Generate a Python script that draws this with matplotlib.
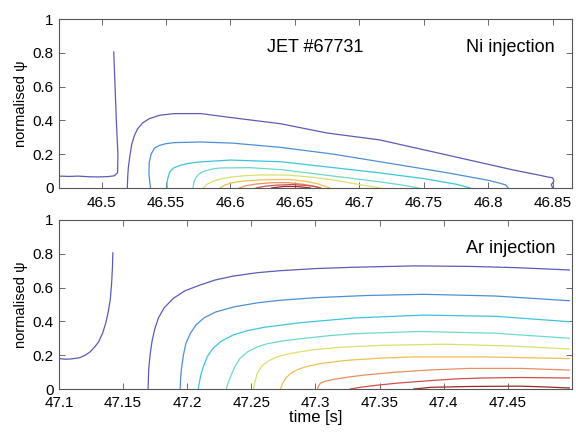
import numpy as np
import matplotlib
matplotlib.use('Agg')
import matplotlib.pyplot as plt

plt.rcParams['font.family'] = ['Liberation Sans', 'DejaVu Sans']

# contour colours (jet-like, washed out), outer -> inner
level_colors = ['#5b5bb8', '#4d8fd6', '#3cc3e0', '#6fd8c8', '#d8e070',
                '#f0c050', '#e89060', '#d05050', '#a02828']

# ---- Ni injection (top) ----
ni_left_t = [46.467, 46.475, 46.482, 46.490, 46.497, 46.505, 46.510, 46.5125,
             46.5127, 46.5115, 46.5105, 46.5095]
ni_left_psi = [0.070, 0.068, 0.070, 0.066, 0.065, 0.067, 0.072, 0.090,
               0.200, 0.400, 0.600, 0.805]

ni_t = [
    [46.520, 46.5203, 46.5208, 46.522, 46.5235, 46.5255, 46.528, 46.532, 46.537,
     46.545, 46.556, 46.577, 46.602, 46.639, 46.675, 46.716, 46.768, 46.819,
     46.840, 46.846, 46.850, 46.851, 46.849, 46.850],
    [46.538, 46.5368, 46.537, 46.5385, 46.541, 46.545, 46.550, 46.556, 46.577,
     46.602, 46.639, 46.680, 46.716, 46.768, 46.800, 46.808, 46.8135, 46.8155],
    [46.551, 46.5508, 46.5515, 46.553, 46.556, 46.561, 46.568, 46.575, 46.600,
     46.639, 46.680, 46.716, 46.750, 46.775, 46.786],
    [46.571, 46.5715, 46.573, 46.576, 46.580, 46.586, 46.592, 46.615, 46.640,
     46.680, 46.716, 46.735, 46.746],
    [46.579, 46.582, 46.586, 46.592, 46.600, 46.612, 46.625, 46.645, 46.665,
     46.680, 46.700, 46.716],
    [46.592, 46.596, 46.602, 46.612, 46.625, 46.645, 46.658, 46.668, 46.677],
    [46.607, 46.612, 46.620, 46.632, 46.645, 46.656, 46.665, 46.670],
    [46.620, 46.627, 46.635, 46.648, 46.660, 46.666, 46.670],
    [46.632, 46.642, 46.652, 46.662],
]
ni_psi = [
    [0.0, 0.06, 0.12, 0.19, 0.26, 0.31, 0.35, 0.385, 0.41, 0.43, 0.44, 0.44,
     0.415, 0.38, 0.325, 0.284, 0.195, 0.107, 0.075, 0.065, 0.060, 0.040,
     0.020, 0.0],
    [0.0, 0.08, 0.15, 0.20, 0.235, 0.252, 0.262, 0.268, 0.272, 0.265, 0.24,
     0.20, 0.155, 0.09, 0.045, 0.03, 0.018, 0.0],
    [0.0, 0.03, 0.06, 0.095, 0.118, 0.134, 0.146, 0.153, 0.165, 0.155, 0.12,
     0.089, 0.055, 0.022, 0.0],
    [0.0, 0.03, 0.06, 0.085, 0.100, 0.112, 0.118, 0.120, 0.108, 0.07, 0.036,
     0.015, 0.0],
    [0.0, 0.022, 0.038, 0.052, 0.064, 0.073, 0.077, 0.076, 0.062, 0.047, 0.02, 0.0],
    [0.0, 0.018, 0.032, 0.042, 0.048, 0.05, 0.04, 0.024, 0.0],
    [0.0, 0.013, 0.023, 0.031, 0.031, 0.022, 0.01, 0.0],
    [0.0, 0.01, 0.016, 0.02, 0.014, 0.007, 0.0],
    [0.0, 0.009, 0.008, 0.0],
]

# ---- Ar injection (bottom) ----
ar_left_t = [47.100, 47.105, 47.110, 47.116, 47.120, 47.124, 47.128, 47.131,
             47.134, 47.1365, 47.1385, 47.140, 47.141, 47.1417, 47.142]
ar_left_psi = [0.18, 0.176, 0.178, 0.185, 0.198, 0.218, 0.25, 0.28, 0.33,
               0.39, 0.46, 0.53, 0.62, 0.72, 0.805]

ar_t = [
    [47.1695, 47.1697, 47.170, 47.171, 47.1725, 47.1745, 47.1775, 47.182,
     47.189, 47.198, 47.210, 47.222, 47.236, 47.255, 47.273, 47.30, 47.33,
     47.377, 47.42, 47.455, 47.498],
    [47.1945, 47.1948, 47.1955, 47.197, 47.199, 47.2025, 47.207, 47.213,
     47.222, 47.236, 47.255, 47.273, 47.30, 47.34, 47.384, 47.44, 47.498],
    [47.2086, 47.2095, 47.2105, 47.2125, 47.2155, 47.22, 47.227, 47.236,
     47.247, 47.26, 47.288, 47.33, 47.384, 47.44, 47.498],
    [47.2305, 47.2318, 47.2336, 47.237, 47.241, 47.247, 47.255, 47.2625,
     47.275, 47.288, 47.31, 47.33, 47.38, 47.44, 47.498],
    [47.2516, 47.253, 47.2547, 47.258, 47.263, 47.27, 47.28, 47.298, 47.32,
     47.35, 47.40, 47.45, 47.498],
    [47.2727, 47.2745, 47.277, 47.2805, 47.286, 47.294, 47.305, 47.325, 47.35,
     47.377, 47.43, 47.498],
    [47.3016, 47.3025, 47.304, 47.308, 47.315, 47.325, 47.3375, 47.36, 47.39,
     47.42, 47.46, 47.498],
    [47.327, 47.335, 47.345, 47.364, 47.39, 47.41, 47.43, 47.46, 47.498],
    [47.3766, 47.39, 47.42, 47.46, 47.48, 47.498],
]
ar_psi = [
    [0.0, 0.06, 0.12, 0.20, 0.28, 0.35, 0.42, 0.48, 0.535, 0.58, 0.615, 0.645,
     0.668, 0.688, 0.70, 0.712, 0.72, 0.728, 0.725, 0.718, 0.704],
    [0.0, 0.06, 0.12, 0.20, 0.27, 0.33, 0.38, 0.42, 0.455, 0.485, 0.51, 0.525,
     0.54, 0.553, 0.56, 0.55, 0.522],
    [0.0, 0.04, 0.08, 0.13, 0.19, 0.24, 0.285, 0.32, 0.345, 0.365, 0.392,
     0.42, 0.437, 0.43, 0.398],
    [0.0, 0.035, 0.07, 0.13, 0.18, 0.22, 0.25, 0.268, 0.285, 0.297, 0.315,
     0.327, 0.34, 0.33, 0.30],
    [0.0, 0.05, 0.095, 0.135, 0.165, 0.19, 0.21, 0.232, 0.247, 0.258, 0.265,
     0.255, 0.237],
    [0.0, 0.035, 0.065, 0.092, 0.115, 0.135, 0.152, 0.17, 0.182, 0.19, 0.19, 0.18],
    [0.0, 0.02, 0.035, 0.047, 0.058, 0.07, 0.082, 0.098, 0.113, 0.122, 0.122, 0.112],
    [0.0, 0.01, 0.02, 0.035, 0.05, 0.06, 0.065, 0.068, 0.065],
    [0.0, 0.01, 0.015, 0.017, 0.012, 0.006],
]

ni_ticks = [46.5, 46.55, 46.6, 46.65, 46.7, 46.75, 46.8, 46.85]
ni_ticklabels = ['46.5', '46.55', '46.6', '46.65', '46.7', '46.75', '46.8', '46.85']
ar_ticks = [47.1, 47.15, 47.2, 47.25, 47.3, 47.35, 47.4, 47.45]
ar_ticklabels = ['47.1', '47.15', '47.2', '47.25', '47.3', '47.35', '47.4', '47.45']
psi_ticks = [0, 0.2, 0.4, 0.6, 0.8, 1]
psi_ticklabels = ['0', '0.2', '0.4', '0.6', '0.8', '1']


def style_axes(ax, xticks, xlabels, xlim):
    ax.set_xlim(*xlim)
    ax.set_ylim(0, 1)
    ax.set_xticks(xticks)
    ax.set_xticklabels(xlabels)
    ax.set_yticks(psi_ticks)
    ax.set_yticklabels(psi_ticklabels)
    ax.tick_params(direction='in', top=True, right=True, length=4, width=0.6,
                   color='#555555', labelsize=11, pad=4)
    for s in ax.spines.values():
        s.set_color('#555555')
        s.set_linewidth(0.8)
    ax.set_ylabel('normalised ψ', fontsize=10.5, labelpad=3)


fig = plt.figure(figsize=(5.76, 4.32), dpi=100)
ax1 = fig.add_axes([0.1024, 0.565, 0.8906, 0.391])
ax2 = fig.add_axes([0.1024, 0.0995, 0.8906, 0.3915])

ax1.plot(ni_left_t, ni_left_psi, color=level_colors[0], lw=0.9)
for t, p, c in zip(ni_t, ni_psi, level_colors):
    ax1.plot(t, p, color=c, lw=0.9)
style_axes(ax1, ni_ticks, ni_ticklabels, (46.467, 46.865))
ax1.tick_params(axis='x', pad=6)
ax1.text(0.5, 0.83, 'JET #67731', transform=ax1.transAxes, fontsize=13,
         ha='center', va='center')
ax1.text(0.967, 0.83, 'Ni injection', transform=ax1.transAxes, fontsize=13,
         ha='right', va='center')

ax2.plot(ar_left_t, ar_left_psi, color=level_colors[0], lw=0.9)
for t, p, c in zip(ar_t, ar_psi, level_colors):
    ax2.plot(t, p, color=c, lw=0.9)
style_axes(ax2, ar_ticks, ar_ticklabels, (47.1, 47.5))
ax2.tick_params(axis='x', pad=5)
ax2.text(0.967, 0.83, 'Ar injection', transform=ax2.transAxes, fontsize=13,
         ha='right', va='center')
ax2.set_xlabel('time [s]', fontsize=12, labelpad=0)

fig.savefig('out.png', dpi=100)
